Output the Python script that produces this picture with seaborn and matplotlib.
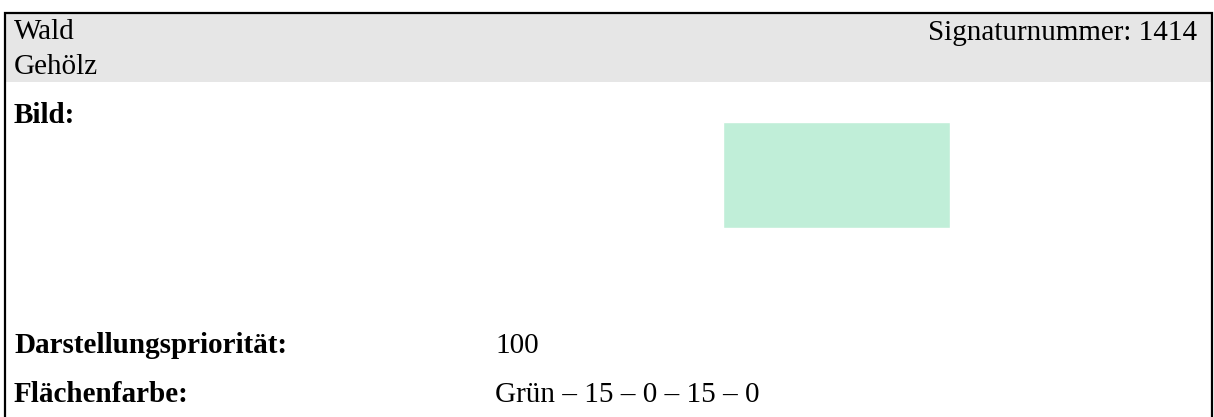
import matplotlib
matplotlib.use("Agg")
import matplotlib.pyplot as plt
import seaborn as sns
import pandas as pd
from matplotlib.patches import Rectangle

# content of the signature sheet
title_lines = ["Wald", "Gehölz"]
signature_no = 1414
field_labels = ["Darstellungspriorität:", "Flächenfarbe:"]
priority = 100
colour_name = "Grün"
cmyk = [15, 0, 15, 0]
swatch_colour = "#c0eed8"

sns.set_theme(style="white")
plt.rcParams["font.family"] = ["Liberation Serif", "DejaVu Serif"]
plt.rcParams["text.color"] = "black"

W, H = 1214, 417
fig = plt.figure(figsize=(W / 100, H / 100), dpi=100)
ax = fig.add_axes([0, 0, 1, 1])
ax.set_xlim(0, W)
ax.set_ylim(H, 0)
ax.axis("off")

# header band and frame
ax.add_patch(Rectangle((5, 14), 1206, 68, facecolor="#e6e6e6", edgecolor="none"))
ax.plot([4.5, 4.5, 1212, 1212], [H + 5, 13, 13, H + 5], color="black", lw=1.6,
        solid_joinstyle="miter", clip_on=False)

fs = 21
ax.text(14, 39, title_lines[0], fontsize=fs, va="baseline")
ax.text(14, 74, title_lines[1], fontsize=fs, va="baseline")
ax.text(1197, 40, f"Signaturnummer: {signature_no}", fontsize=fs,
        va="baseline", ha="right")

ax.text(14, 123, "Bild:", fontsize=fs, fontweight="bold", va="baseline")
ax.text(14, 353, field_labels[0], fontsize=fs, fontweight="bold", va="baseline")
ax.text(14, 402, field_labels[1], fontsize=fs, fontweight="bold", va="baseline")

ax.text(495, 353, str(priority), fontsize=fs, va="baseline")
value_txt = " – ".join([colour_name] + [str(v) for v in cmyk])
ax.text(495, 402, value_txt, fontsize=fs, va="baseline")

# colour swatch drawn as a single seaborn bar
sw = fig.add_axes([723 / W, 1 - 228 / H, 227 / W, 106 / H])
swatch_df = pd.DataFrame({"name": [colour_name], "value": [1]})
sns.barplot(data=swatch_df, x="name", y="value", color=swatch_colour,
            width=1.0, saturation=1, ax=sw)
sw.set_xlim(-0.5, 0.5)
sw.set_ylim(0, 1)
sw.axis("off")

fig.savefig("out.png", dpi=100)
